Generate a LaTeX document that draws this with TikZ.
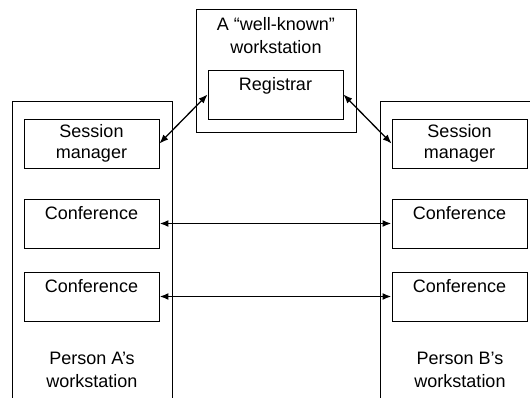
\documentclass[tikz,border=0pt]{standalone}
\usepackage{fontspec}
\setmainfont{Liberation Sans}
\usetikzlibrary{arrows.meta}
\begin{document}
\begin{tikzpicture}[x=1pt,y=-1pt,
  box/.style={draw,line width=0.9pt,minimum width=135pt,minimum height=49pt,inner sep=0pt,align=center,font=\fontsize{18}{21}\selectfont},
  lbl/.style={align=center,inner sep=0pt,font=\fontsize{18}{23}\selectfont},
  frame/.style={line width=0.9pt},
  link/.style={{Latex[length=9pt,width=7pt]}-{Latex[length=9pt,width=7pt]},line width=1.3pt},
  conn/.style={{Latex[length=9pt,width=7pt]}-{Latex[length=9pt,width=7pt]},line width=1.8pt}]
\useasboundingbox (0,0) rectangle (530,398);
\clip (0,0) rectangle (530,398);
% frames
\draw[frame] (12,398) -- (12,101) -- (172,101) -- (172,398);
\draw[frame] (380,398) -- (380,101) -- (540,101) -- (540,398);
\node[draw,line width=0.9pt,minimum width=160pt,minimum height=123pt,inner sep=0pt] (top) at (276,70.5) {};
\node[lbl] (toplbl) at (276,36) {A “well-known”\\workstation};
\node[box] (reg) at (275.5,94.5) {Registrar\\\mbox{}};
% left
\node[box] (smA) at (91.5,143.5) {Session\\manager};
\node[box] (cA1) at (91.5,223.5) {Conference\\\mbox{}};
\node[box] (cA2) at (91.5,296.5) {Conference\\\mbox{}};
\node[lbl] (pA) at (92,370) {Person A’s\\workstation};
% right
\node[box] (smB) at (459.5,143.5) {Session\\manager};
\node[box] (cB1) at (459.5,223.5) {Conference\\\mbox{}};
\node[box] (cB2) at (459.5,296.5) {Conference\\\mbox{}};
\node[lbl] (pB) at (460,370) {Person B’s\\workstation};
% connectors
\draw[link] (reg.west) -- (smA.east);
\draw[link] (reg.east) -- (smB.west);
\draw[conn] (cA1.east) -- (cB1.west);
\draw[conn] (cA2.east) -- (cB2.west);
\end{tikzpicture}
\end{document}
